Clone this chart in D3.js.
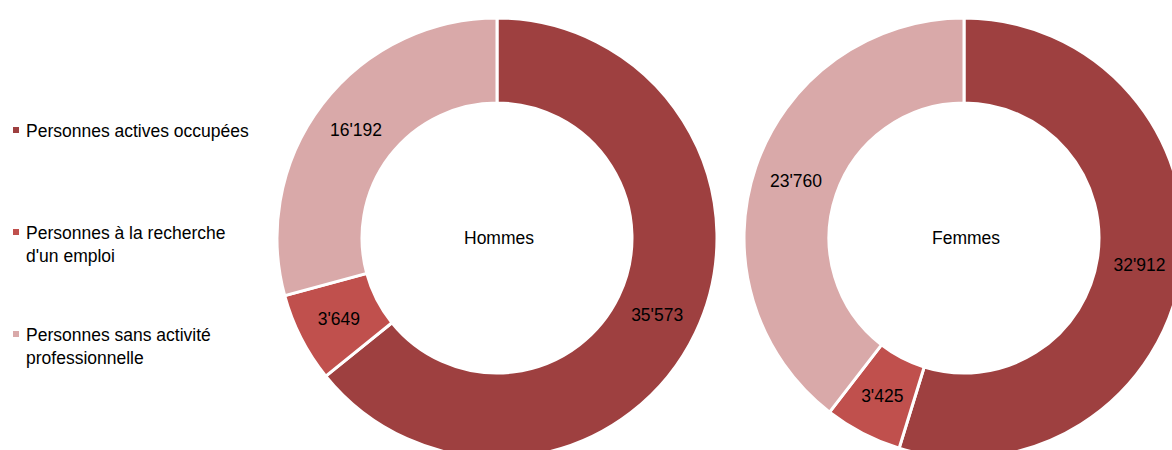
<!DOCTYPE html>
<html>
<head>
<meta charset="utf-8">
<script src="https://cdn.jsdelivr.net/npm/d3@7"></script>
<style>
  html, body { margin: 0; padding: 0; background: #fff; }
  svg { display: block; font-family: "Liberation Sans", Arial, sans-serif; }
</style>
</head>
<body>
<svg id="chart" width="1172" height="450"></svg>
<script>
// Data
const categories = ["Personnes actives occupées", "Personnes à la recherche d'un emploi", "Personnes sans activité professionnelle"];
const legendLines = [["Personnes actives occupées"], ["Personnes à la recherche", "d'un emploi"], ["Personnes sans activité", "professionnelle"]];
const groups = ["Hommes", "Femmes"];
const hommes = [35573, 3649, 16192];
const femmes = [32912, 3425, 23760];

// Config
const width = 1172;
const height = 450;
const colors = ["#9e4040", "#c0504d", "#d9a9a9"];
const centers = [[497, 238], [964, 238]];
const outerR = 220;
const innerR = 135;
const fontSize = 17.5;

const svg = d3.select('#chart');
const color = d3.scaleOrdinal().domain(categories).range(colors);
const fmt = d3.formatLocale({ decimal: '.', thousands: "'", grouping: [3], currency: ['', ''] }).format(',d');

const pie = d3.pie().sort(null).value(d => d.value);
const arc = d3.arc().innerRadius(innerR).outerRadius(outerR);

function drawDonut(name, values, center) {
    const data = values.map((v, i) => ({ cat: categories[i], value: v }));
    const g = svg.append('g').attr('transform', `translate(${center[0]},${center[1]})`);

    g.selectAll('path')
        .data(pie(data))
        .join('path')
        .attr('d', arc)
        .attr('fill', d => color(d.data.cat))
        .attr('stroke', '#fff')
        .attr('stroke-width', 3);

    g.selectAll('text.val')
        .data(pie(data))
        .join('text')
        .attr('class', 'val')
        .attr('transform', d => `translate(${arc.centroid(d)})`)
        .attr('text-anchor', 'middle')
        .attr('dy', '0.35em')
        .attr('font-size', fontSize)
        .attr('fill', '#000')
        .text(d => fmt(d.data.value));

    g.append('text')
        .attr('x', 2)
        .attr('dy', '0.35em')
        .attr('text-anchor', 'middle')
        .attr('font-size', fontSize)
        .attr('fill', '#000')
        .text(name);
}

drawDonut(groups[0], hommes, centers[0]);
drawDonut(groups[1], femmes, centers[1]);

// Legend
const legend = svg.append('g');
const item = legend.selectAll('g')
    .data(categories)
    .join('g')
    .attr('transform', (d, i) => `translate(0,${137 + i * 102})`);

item.append('rect')
    .attr('x', 13)
    .attr('y', -10)
    .attr('width', 6)
    .attr('height', 6)
    .attr('fill', d => color(d));

item.append('text')
    .attr('font-size', fontSize)
    .attr('fill', '#000')
    .selectAll('tspan')
    .data((d, i) => legendLines[i])
    .join('tspan')
    .attr('x', 26)
    .attr('y', (d, j) => j * 22.5)
    .text(d => d);
</script>
</body>
</html>
